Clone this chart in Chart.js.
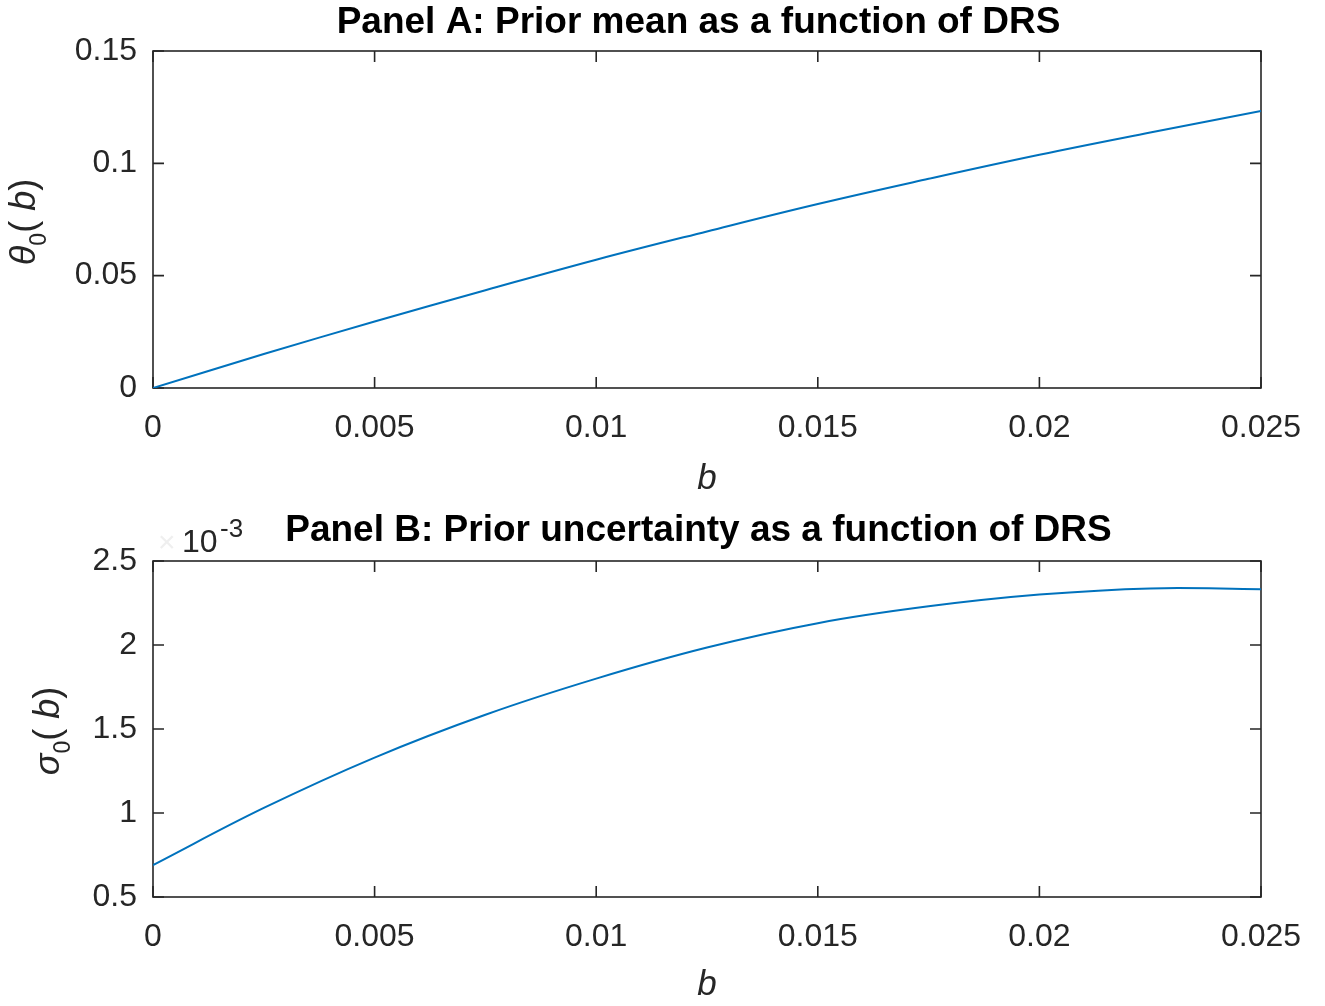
<!DOCTYPE html>
<html><head><meta charset="utf-8">
<script src="https://cdn.jsdelivr.net/npm/chart.js@4.4.0/dist/chart.umd.min.js"></script>
<style>
html,body{margin:0;padding:0;background:#fff;}
#wrap{position:relative;width:1325px;height:1006px;background:#fff;}
canvas{position:absolute;left:0;}
</style></head><body>
<div id="wrap">
<canvas id="c1" width="1325" height="503" style="top:0"></canvas>
<canvas id="c2" width="1325" height="503" style="top:503px"></canvas>
</div>
<script>
// ---- data ----
const bValues     = [0, 0.0025, 0.005, 0.0075, 0.01, 0.0125, 0.015, 0.0175, 0.02, 0.0225, 0.025];
const thetaValues = [0, 0.0151, 0.0296, 0.0435, 0.0571, 0.0697, 0.0819, 0.0931, 0.1038, 0.1137, 0.1233];
const sigmaValues = [0.69, 1.03, 1.33, 1.585, 1.80, 1.985, 2.13, 2.23, 2.30, 2.337, 2.332]; // x 1e-3
const xTicks = [0, 0.005, 0.01, 0.015, 0.02, 0.025];
const yTicksA = [0, 0.05, 0.1, 0.15];
const yTicksB = [0.5, 1, 1.5, 2, 2.5];
const titleA = 'Panel A: Prior mean as a function of DRS';
const titleB = 'Panel B: Prior uncertainty as a function of DRS';
const xLabel = 'b';

const FAM = '"Liberation Sans", Arial, Helvetica, sans-serif';
Chart.defaults.font.family = FAM;
Chart.defaults.devicePixelRatio = 1;

const AX = '#262626';
const fmt = v => String(parseFloat(Number(v).toFixed(6)));

const framePlugin = {
  id: 'frame',
  beforeDatasetsDraw(chart) {
    const {ctx, chartArea: a, scales} = chart;
    ctx.save();
    ctx.strokeStyle = AX; ctx.lineWidth = 1.6;
    ctx.strokeRect(a.left, a.top, a.right - a.left, a.bottom - a.top);
    const L = 11;
    ctx.beginPath();
    scales.x.ticks.forEach(t => {
      const p = scales.x.getPixelForValue(t.value);
      ctx.moveTo(p, a.bottom); ctx.lineTo(p, a.bottom - L);
      ctx.moveTo(p, a.top); ctx.lineTo(p, a.top + L);
    });
    scales.y.ticks.forEach(t => {
      const p = scales.y.getPixelForValue(t.value);
      ctx.moveTo(a.left, p); ctx.lineTo(a.left + L, p);
      ctx.moveTo(a.right, p); ctx.lineTo(a.right - L, p);
    });
    ctx.stroke();
    ctx.restore();
  }
};

function textPlugin(title, titleBaseline, parts, baseX, centerY, extra) {
  return {
    id: 'texts',
    afterDraw(chart) {
      const ctx = chart.ctx;
      ctx.save();
      ctx.fillStyle = '#000';
      ctx.font = 'bold 37px ' + FAM;
      ctx.textAlign = 'center'; ctx.textBaseline = 'alphabetic';
      ctx.fillText(title, 698.5, titleBaseline);
      ctx.restore();
      ctx.save();
      ctx.fillStyle = AX;
      ctx.textBaseline = 'alphabetic';
      ctx.textAlign = 'left';
      let total = 0;
      parts.forEach(p => { ctx.font = p.f; p.w = ctx.measureText(p.t).width; total += p.w; });
      ctx.translate(baseX, centerY);
      ctx.rotate(-Math.PI / 2);
      let x = -total / 2;
      parts.forEach(p => { ctx.font = p.f; ctx.fillText(p.t, x, p.dy || 0); x += p.w; });
      ctx.restore();
      if (extra) extra(chart);
    }
  };
}

function makeChart(id, values, yMin, yMax, yTickList, padTop, xHeight, xTitlePadBottom, plugin) {
  return new Chart(document.getElementById(id), {
    type: 'line',
    data: {
      datasets: [{
        data: bValues.map((b, i) => ({x: b, y: values[i]})),
        borderColor: '#0072BD', borderWidth: 2, pointRadius: 0,
        tension: 0.4, fill: false
      }]
    },
    options: {
      responsive: false, animation: false,
      layout: {padding: {left: 0, right: 64, top: padTop, bottom: 0}},
      plugins: {legend: {display: false}, tooltip: {enabled: false}, title: {display: false}},
      scales: {
        x: {
          type: 'linear', min: 0, max: 0.025,
          grid: {display: false, drawTicks: false}, border: {display: false},
          afterBuildTicks(s) { s.ticks = xTicks.map(v => ({value: v})); },
          afterFit(s) { s.height = xHeight; s.paddingLeft = 0; s.paddingRight = 0; },
          ticks: {padding: 21, color: AX, font: {family: FAM, size: 32}, maxRotation: 0, autoSkip: false, callback: fmt},
          title: {display: true, text: xLabel, color: AX, font: {family: FAM, size: 35, style: 'italic'},
            padding: {top: 0, bottom: xTitlePadBottom}}
        },
        y: {
          type: 'linear', min: yMin, max: yMax,
          grid: {display: false, drawTicks: false}, border: {display: false},
          afterBuildTicks(s) { s.ticks = yTickList.map(v => ({value: v})); },
          afterFit(s) { s.width = 153; s.paddingTop = 0; s.paddingBottom = 0; },
          ticks: {padding: 16, color: AX, font: {family: FAM, size: 32}, autoSkip: false, callback: fmt}
        }
      }
    },
    plugins: [framePlugin, plugin]
  });
}

const main = '36px ' + FAM, ital = 'italic 36px ' + FAM, sub = '23px ' + FAM;

makeChart('c1', thetaValues, 0, 0.15, yTicksA, 51, 115, 3,
  textPlugin(titleA, 33, [
    {t: 'θ', f: ital}, {t: '0', f: sub, dy: 11}, {t: '( ', f: main}, {t: 'b', f: ital}, {t: ')', f: main}
  ], 35, 222));

makeChart('c2', sigmaValues, 0.5, 2.5, yTicksB, 58, 109, 0,
  textPlugin(titleB, 38, [
    {t: 'σ', f: ital}, {t: '0', f: sub, dy: 11}, {t: '( ', f: main}, {t: 'b', f: ital}, {t: ')', f: main}
  ], 59, 228, chart => {
    const ctx = chart.ctx;
    ctx.save();
    ctx.textBaseline = 'alphabetic'; ctx.textAlign = 'left';
    ctx.font = '30px ' + FAM; ctx.fillStyle = '#efefef';
    ctx.fillText('×', 158, 49);
    ctx.font = '32px ' + FAM; ctx.fillStyle = AX;
    ctx.fillText('10', 182, 49);
    ctx.font = '26px ' + FAM;
    ctx.fillText('-3', 220, 34);
    ctx.restore();
  }));
</script>
</body></html>
